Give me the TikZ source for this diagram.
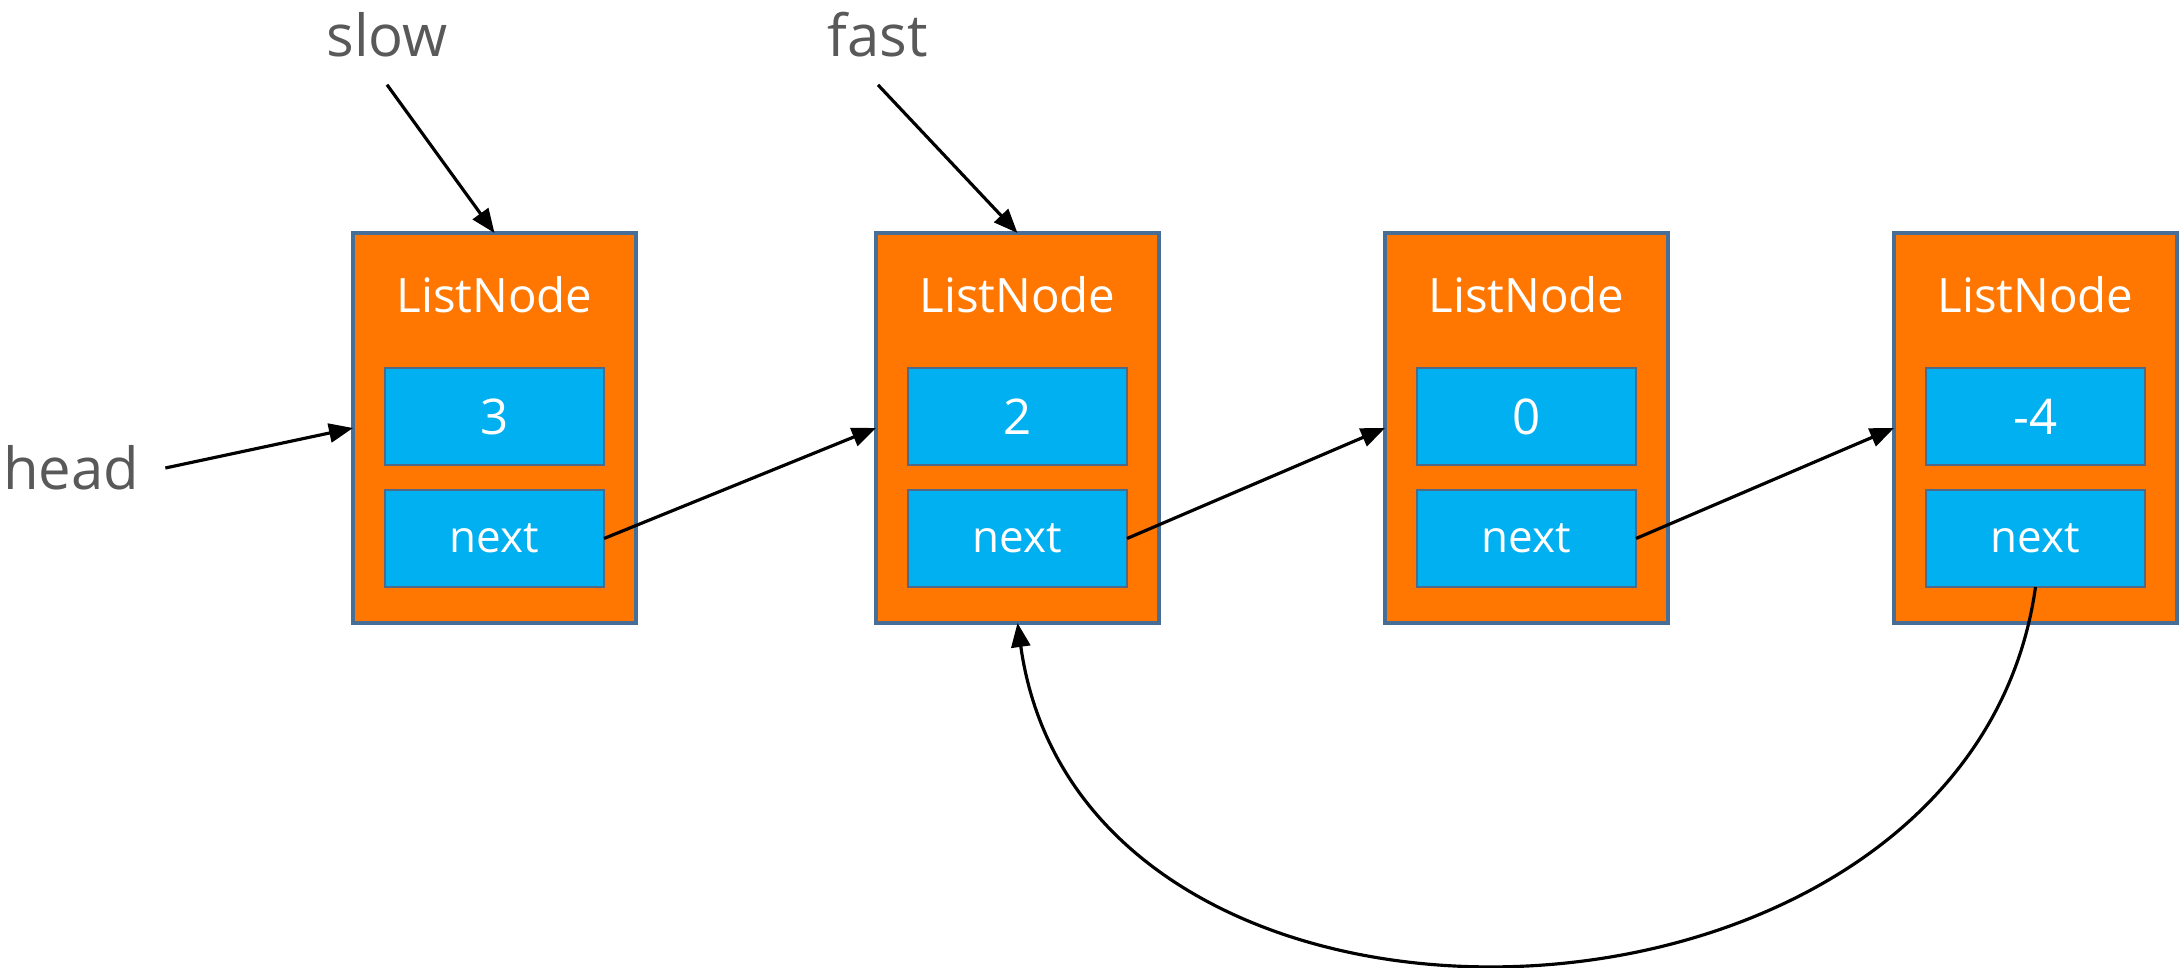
\documentclass[tikz,border=0pt]{standalone}
\usepackage{fontspec}
\setmainfont{Open Sans}
\usepackage{tikz}
\usetikzlibrary{positioning,arrows.meta}
\definecolor{nodeorange}{RGB}{255,118,0}
\definecolor{fieldblue}{RGB}{0,176,240}
\definecolor{nodeframe}{RGB}{70,110,150}
\definecolor{fieldframe}{RGB}{80,105,135}
\definecolor{labelgray}{RGB}{89,89,89}
\tikzset{
  list-node/.style={draw=nodeframe, line width=1pt, fill=nodeorange,
    minimum width=2.83cm, minimum height=3.9cm, outer sep=0pt},
  title-text/.style={text=white, font=\fontsize{13.5}{16}\selectfont, inner sep=0pt},
  field-node/.style={draw=fieldframe, line width=0.7pt, fill=fieldblue,
    minimum width=2.19cm, minimum height=0.97cm, text=white,
    font=\fontsize{14}{17}\selectfont, inner sep=0pt, outer sep=0pt},
  pointer-label/.style={text=labelgray, font=\fontsize{16.5}{20}\selectfont},
  flow-arrow/.style={-{Triangle[length=2.4mm, width=1.9mm]}, line width=0.9pt, draw=black}
}
\begin{document}
\begin{tikzpicture}
\useasboundingbox (0,0) rectangle (21.82,-9.68);

% The four list nodes
\node[list-node] (n1) at (4.945,-4.28) {};
\node[list-node, right=2.40cm of n1] (n2) {};
\node[list-node, right=2.26cm of n2] (n3) {};
\node[list-node, right=2.26cm of n3] (n4) {};

% Titles, values and next fields
\node[title-text] (t1) at ([yshift=-0.62cm]n1.north) {ListNode};
\node[title-text] (t2) at ([yshift=-0.62cm]n2.north) {ListNode};
\node[title-text] (t3) at ([yshift=-0.62cm]n3.north) {ListNode};
\node[title-text] (t4) at ([yshift=-0.62cm]n4.north) {ListNode};

\node[field-node, below=1.35cm of n1.north] (v1) {3};
\node[field-node, below=1.35cm of n2.north] (v2) {2};
\node[field-node, below=1.35cm of n3.north] (v3) {0};
\node[field-node, below=1.35cm of n4.north] (v4) {-4};

\node[field-node, below=0.25cm of v1, font=\fontsize{12.5}{15}\selectfont] (p1) {next};
\node[field-node, below=0.25cm of v2, font=\fontsize{12.5}{15}\selectfont] (p2) {next};
\node[field-node, below=0.25cm of v3, font=\fontsize{12.5}{15}\selectfont] (p3) {next};
\node[field-node, below=0.25cm of v4, font=\fontsize{12.5}{15}\selectfont] (p4) {next};

% Pointer labels
\node[pointer-label] (slow) at (3.87,-0.35) {slow};
\node[pointer-label] (fast) at (8.78,-0.35) {fast};
\node[pointer-label] (head) at (0.71,-4.68) {head};

\draw[flow-arrow] ([yshift=-1.5mm]slow.south) -- (n1.north);
\draw[flow-arrow] ([yshift=-1.5mm]fast.south) -- (n2.north);
\draw[flow-arrow] ([xshift=1.4mm]head.east) -- (n1.west);

% Next links
\draw[flow-arrow] (p1.east) -- (n2.west);
\draw[flow-arrow] (p2.east) -- (n3.west);
\draw[flow-arrow] (p3.east) -- (n4.west);

% Cycle back to the second node
\draw[flow-arrow] (p4.south) to[out=-98, in=-82, looseness=1.21] (n2.south);
\end{tikzpicture}
\end{document}
